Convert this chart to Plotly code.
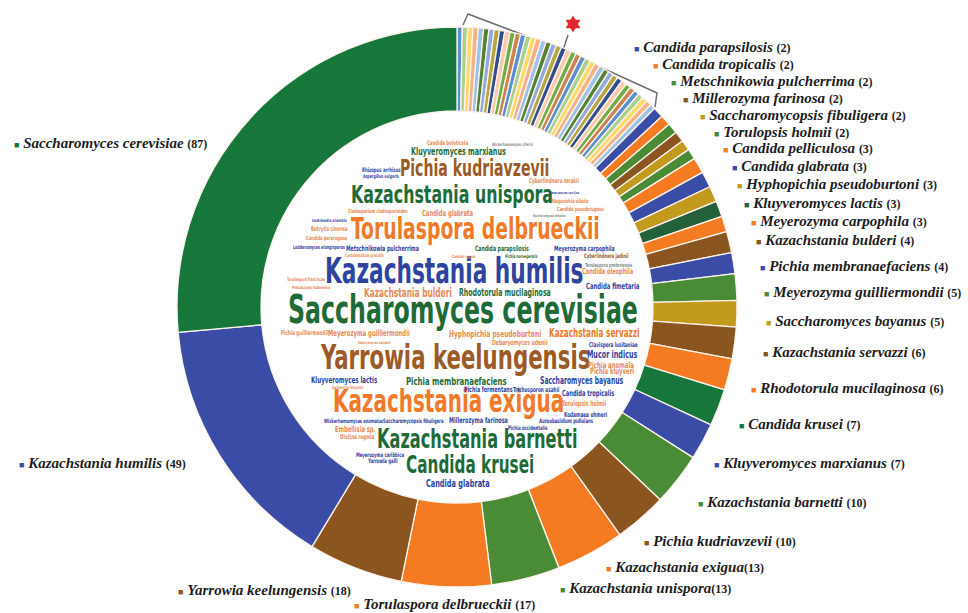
import plotly.graph_objects as go

W, H = 968, 613

# ---------------- data ----------------
species = [
    "Saccharomyces cerevisiae", "Kazachstania humilis", "Yarrowia keelungensis",
    "Torulaspora delbrueckii", "Kazachstania unispora", "Kazachstania exigua",
    "Pichia kudriavzevii", "Kazachstania barnetti", "Kluyveromyces marxianus",
    "Candida krusei", "Rhodotorula mucilaginosa", "Kazachstania servazzi",
    "Saccharomyces bayanus", "Meyerozyma guilliermondii", "Pichia membranaefaciens",
    "Kazachstania bulderi", "Meyerozyma carpophila", "Kluyveromyces lactis",
    "Hyphopichia pseudoburtoni", "Candida glabrata", "Candida pelliculosa",
    "Torulopsis holmii", "Saccharomycopsis fibuligera", "Millerozyma farinosa",
    "Metschnikowia pulcherrima", "Candida tropicalis", "Candida parapsilosis",
]
counts = [87, 49, 18, 17, 13, 13, 10, 10, 7, 7, 6, 6, 5, 5, 4, 4, 3, 3, 3, 3, 3,
          2, 2, 2, 2, 2, 2]

singletons = [
    "Candida boleticola", "Rhizopus arrhizus", "Aspergillus vulgaris",
    "Cladosporium cladosporioides", "Issatchenkia orientalis", "Botrytis cinerea",
    "Candida pararugosa", "Lodderomyces elongisporus", "Cystobasidium pinicola",
    "Torulaspora franciscae", "Pseudozyma hubeiensis", "Wickerhamomyces ciferrii",
    "Cyberlindnera mrakii", "Debaryomyces vanrijiae", "Naganishia albida",
    "Candida pseudorugosa", "Saccharomyces mikatae", "Pichia norvegensis",
    "Cyberlindnera jadinii", "Torulaspora pretoriensis", "Candida oleophila",
    "Candida fimetaria", "Candida rugosa", "Pichia guilliermondii",
    "Debaryomyces hansenii", "Debaryomyces udenii", "Clavispora lusitaniae",
    "Mucor indicus", "Pichia anomala", "Pichia kluyveri", "Lachancea kluyveri",
    "Pichia fermentans", "Trichosporon asahii", "Kodamaea ohmeri",
    "Wickerhamomyces anomalus", "Aureobasidium pullulans", "Pichia occidentalis",
    "Embellisia sp.", "Diutina rugosa", "Meyerozyma caribbica", "Yarrowia galli",
]
singleton_counts = [1, 1, 1, 1, 1, 1, 1, 1, 1, 1, 1, 1, 1, 1, 1, 1, 1, 1, 1, 1, 1,
                    1, 1, 1, 1, 1, 1, 1, 1, 1, 1, 1, 1, 1, 1, 1, 1, 1, 1, 1, 1]

# ---------------- styles ----------------
DG, BL, BR, OR, GR, GO, KG = ("#17773a", "#3a4ca5", "#8b5520", "#f47b22",
                              "#4a8b36", "#c29a1d", "#24603a")
slice_colors = [DG, BL, BR, OR, GR, OR, BR, GR, BL, DG, OR, BR, GO, GR, BL, BR,
                OR, KG, GO, BL, OR, GR, GO, BR, GR, OR, BL]
single_cycle = ["#9dc3e6", "#f4b183", "#ffd966", "#a9d18e", "#5b8fd0", "#c9854f",
                "#70ad47", "#f8cbad", "#2f4f8f", "#b5a642", "#8faadc", "#548235"]
single_colors = [single_cycle[i % len(single_cycle)] for i in range(len(singletons))]

# legend-style label positions (left of square, vertical middle) in pixels
LABEL_XY = {
    "Candida parapsilosis": (632, 47), "Candida tropicalis": (651, 64),
    "Metschnikowia pulcherrima": (669, 81), "Millerozyma farinosa": (681, 98),
    "Saccharomycopsis fibuligera": (698, 115), "Torulopsis holmii": (712, 132),
    "Candida pelliculosa": (721, 148), "Candida glabrata": (730, 166),
    "Hyphopichia pseudoburtoni": (735, 184), "Kluyveromyces lactis": (742, 203),
    "Meyerozyma carpophila": (749, 221), "Kazachstania bulderi": (754, 240),
    "Pichia membranaefaciens": (758, 266), "Meyerozyma guilliermondii": (762, 292),
    "Saccharomyces bayanus": (764, 321), "Kazachstania servazzi": (761, 352),
    "Rhodotorula mucilaginosa": (749, 388), "Candida krusei": (737, 424),
    "Kluyveromyces marxianus": (712, 463), "Kazachstania barnetti": (696, 502),
    "Pichia kudriavzevii": (642, 541), "Kazachstania exigua": (604, 567),
    "Kazachstania unispora": (558, 588), "Torulaspora delbrueckii": (352, 604),
    "Yarrowia keelungensis": (176, 590), "Kazachstania humilis": (17, 463),
    "Saccharomyces cerevisiae": (12, 143),
}
NO_SPACE = {"Kazachstania exigua", "Kazachstania unispora"}

# word cloud layout: text, left px, right px, centre y px, colour
WG, WB, WO, WBR, WLO, WGY = "#1f6b38", "#2f43a0", "#ee7a2a", "#9b5a26", "#e58a55", "#8a8a8a"
WORDS = [
    ("Saccharomyces cerevisiae", 290, 636, 310, WG),
    ("Kazachstania humilis", 328, 580, 271, WB),
    ("Torulaspora delbrueckii", 352, 598, 229, WO),
    ("Kazachstania unispora", 353, 550, 194, WG),
    ("Pichia kudriavzevii", 402, 547, 168, WBR),
    ("Yarrowia keelungensis", 322, 587, 357, WBR),
    ("Kazachstania exigua", 336, 560, 400, WO),
    ("Kazachstania barnetti", 382, 573, 438, WG),
    ("Candida krusei", 407, 532, 464, WG),
    ("Kluyveromyces marxianus", 412, 505, 151, WG),
    ("Pichia membranaefaciens", 407, 505, 381, WG),
    ("Saccharomyces bayanus", 540, 623, 381, WB),
    ("Kazachstania servazzi", 550, 638, 333, WO),
    ("Mucor indicus", 588, 637, 354, WB),
    ("Candida glabrata", 427, 488, 483, WB),
    ("Candida glabrata", 423, 472, 213, WLO),
    ("Meyerozyma carpophila", 555, 613, 248, WB),
    ("Candida fimetaria", 587, 638, 286, WB),
    ("Candida oleophila", 583, 633, 271, WLO),
    ("Candida tropicalis", 562, 613, 393, WB),
    ("Torulopsis holmii", 562, 607, 403, WLO),
    ("Kodamaea ohmeri", 565, 607, 414, WB),
    ("Pichia anomala", 588, 633, 364, WLO),
    ("Kazachstania bulderi", 365, 450, 293, WLO),
    ("Rhodotorula mucilaginosa", 460, 550, 293, WG),
    ("Meyerozyma guilliermondii", 330, 408, 333, WLO),
    ("Hyphopichia pseudoburtoni", 450, 540, 334, WLO),
    ("Kluyveromyces lactis", 312, 377, 380, WB),
    ("Embellisia sp.", 335, 375, 429, WLO),
    ("Candida boleticola", 427, 467, 142, WLO),
    ("Metschnikowia pulcherrima", 347, 417, 248, WB),
    ("Candida parapsilosis", 475, 528, 248, WG),
    ("Saccharomycopsis fibuligera", 383, 443, 420, WB),
    ("Millerozyma farinosa", 450, 506, 420, WB),
    ("Pichia occidentalis", 508, 547, 427, WB),
    ("Rhizopus arrhizus", 362, 400, 169, WB),
    ("Aspergillus vulgaris", 363, 398, 177, WB),
    ("Cladosporium cladosporioides", 348, 407, 210, WLO),
    ("Issatchenkia orientalis", 312, 347, 221, WB),
    ("Botrytis cinerea", 312, 347, 228, WLO),
    ("Candida pararugosa", 307, 347, 237, WLO),
    ("Lodderomyces elongisporus", 293, 345, 248, WB),
    ("Cystobasidium pinicola", 345, 383, 256, WLO),
    ("Torulaspora franciscae", 287, 325, 280, WLO),
    ("Pseudozyma hubeiensis", 292, 330, 288, WLO),
    ("Wickerhamomyces ciferrii", 493, 532, 145, WGY),
    ("Cyberlindnera mrakii", 530, 578, 182, WLO),
    ("Debaryomyces vanrijiae", 550, 578, 193, WB),
    ("Naganishia albida", 553, 588, 200, WLO),
    ("Candida pseudorugosa", 557, 603, 208, WLO),
    ("Saccharomyces mikatae", 533, 565, 216, WGY),
    ("Pichia norvegensis", 505, 537, 257, WG),
    ("Cyberlindnera jadinii", 585, 628, 255, WBR),
    ("Torulaspora pretoriensis", 585, 632, 264, WGY),
    ("Candida rugosa", 452, 475, 257, WLO),
    ("Pichia guilliermondii", 282, 328, 332, WLO),
    ("Debaryomyces hansenii", 358, 390, 343, WLO),
    ("Debaryomyces udenii", 493, 547, 342, WLO),
    ("Clavispora lusitaniae", 590, 637, 344, WB),
    ("Pichia kluyveri", 590, 633, 371, WLO),
    ("Lachancea kluyveri", 332, 363, 388, WLO),
    ("Pichia fermentans", 465, 512, 389, WB),
    ("Trichosporon asahii", 513, 560, 389, WB),
    ("Wickerhamomyces anomalus", 325, 382, 420, WB),
    ("Aureobasidium pullulans", 540, 593, 420, WB),
    ("Diutina rugosa", 340, 373, 436, WLO),
    ("Meyerozyma caribbica", 357, 403, 454, WB),
    ("Yarrowia galli", 368, 397, 460, WB),
]

# approximate glyph widths (em, Arial-bold based) used to size the condensed font
AW = dict(a=.556, b=.611, c=.556, d=.611, e=.556, f=.333, g=.611, h=.611, i=.278,
          j=.278, k=.556, l=.278, m=.889, n=.611, o=.611, p=.611, q=.611, r=.389,
          s=.556, t=.333, u=.611, v=.556, w=.778, x=.556, y=.556, z=.5)
AW[" "] = .278
AW["."] = .278
WIDTH_FACTOR = 1.03   # DejaVu Sans Condensed Bold relative to the table
STRETCH_Y = 1.45      # word cloud glyphs are taller than they are wide


def em_width(t):
    return sum(AW.get(c, 0.70) for c in t) * WIDTH_FACTOR


# ---------------- figure ----------------
CX, CY, R = 457, 307, 280   # donut geometry (pixels)

all_labels = species + singletons
all_values = counts + singleton_counts
all_colors = slice_colors + single_colors

fig = go.Figure()
fig.add_trace(go.Pie(
    labels=all_labels[::-1],
    values=all_values[::-1],
    marker=dict(colors=all_colors[::-1],
                line=dict(color="#fdf3ee", width=1.3)),
    hole=0.70, sort=False, direction="clockwise", rotation=0,
    textinfo="none", hoverinfo="label+value", showlegend=False,
    domain=dict(x=[(CX - R) / W, (CX + R) / W],
                y=[1 - (CY + R) / H, 1 - (CY - R) / H]),
))

# bracket over the singleton slices and red star
fig.add_trace(go.Scatter(x=[463, 468, 563, 657, 655], y=[25, 14, 50, 93, 107],
                         mode="lines", line=dict(color="#6e6e6e", width=1.5),
                         hoverinfo="skip", showlegend=False))
fig.add_trace(go.Scatter(x=[563, 568], y=[50, 35], mode="lines",
                         line=dict(color="#6e6e6e", width=1.5),
                         hoverinfo="skip", showlegend=False))
fig.add_trace(go.Scatter(x=[573], y=[24], mode="markers",
                         marker=dict(symbol="hexagram", size=13, color="#e3262b"),
                         hoverinfo="skip", showlegend=False))

annotations = []
color_of = dict(zip(species, slice_colors))
count_of = dict(zip(species, counts))
for name, (x, y) in LABEL_XY.items():
    sp = "" if name in NO_SPACE else " "
    txt = (f'<b><span style="color:{color_of[name]};font-size:9px">■</span> '
           f'<i>{name}</i>{sp}<span style="font-size:12px">({count_of[name]})</span></b>')
    annotations.append(dict(x=x, y=y, xref="x", yref="y", text=txt, showarrow=False,
                            xanchor="left", yanchor="middle",
                            font=dict(family="Liberation Serif, Times New Roman, serif",
                                      size=15, color="#1c1c1c")))
N_LABELS = len(annotations)

for text, x0, x1, yc, col in WORDS:
    size = (x1 - x0) / em_width(text)
    annotations.append(dict(x=(x0 + x1) / 2, y=yc, xref="x", yref="y",
                            text=f"<b>{text}</b>", showarrow=False,
                            xanchor="center", yanchor="middle", borderpad=0,
                            font=dict(family="DejaVu Sans Condensed, DejaVu Sans, sans-serif",
                                      size=size, color=col)))

fig.update_layout(
    width=W, height=H, margin=dict(l=0, r=0, t=0, b=0),
    paper_bgcolor="white", plot_bgcolor="rgba(0,0,0,0)",
    xaxis=dict(range=[0, W], visible=False, fixedrange=True, domain=[0, 1]),
    yaxis=dict(range=[H, 0], visible=False, fixedrange=True, domain=[0, 1]),
    annotations=annotations,
)

post = """
document.body.style.margin='0px';
var gd = document.getElementById('{plot_id}');
gd.querySelectorAll('g.annotation').forEach(function(g){
  var idx = +g.getAttribute('data-index');
  if (idx < %d) return;
  var t = g.querySelector('text.annotation-text');
  if (!t) return;
  var b = t.getBBox();
  var cy = b.y + b.height/2;
  t.setAttribute('transform', 'translate(0,'+cy+') scale(1,%s) translate(0,'+(-cy)+')');
});
""" % (N_LABELS, STRETCH_Y)

fig.write_html("out.html", post_script=post, config={"displayModeBar": False})
